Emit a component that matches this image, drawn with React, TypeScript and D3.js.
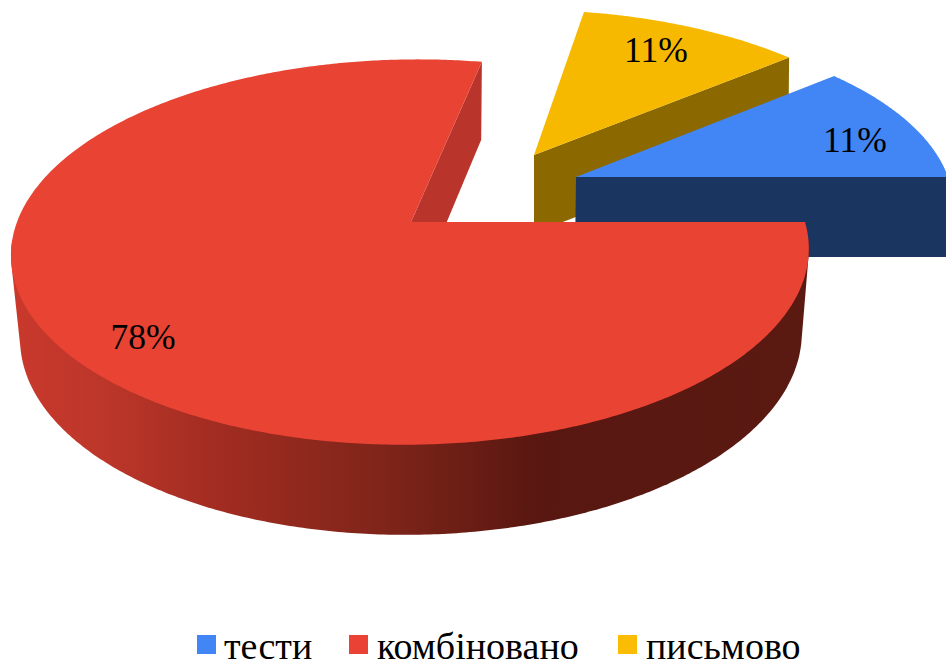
import React from "react";
import * as d3 from "d3";

const categories = ["тести", "комбіновано", "письмово"];
const shares = [11, 78, 11];
const percentLabels = ["11%", "78%", "11%"];
const topColors = ["#4285F4", "#E94334", "#F6B900"];
const legendColors = ["#4285F4", "#EA4335", "#FBBC04"];

const W = 946, H = 664;
const P = 0.156;
const FONT = "'Liberation Serif', serif";

type Proj = { x0: number; y0: number; r: number; a: number; s: number };
const project = (p: Proj, ang: number, f = 1): [number, number] => {
  const u = Math.sin(ang) * f, v = Math.cos(ang) * f;
  const w = 1 + P * v;
  return [p.x0 + (p.r * u) / w + p.s * v, p.y0 - (p.a * v) / w];
};

const layout: { top: Proj; bottom: Proj; wallFill: string; label: [number, number] }[] = [
  { top: { x0: 576, y0: 177, r: 372, a: 174, s: -4 }, bottom: { x0: 575, y0: 257, r: 372, a: 174, s: -4 }, wallFill: "#1A3560", label: [855, 152] },
  { top: { x0: 411, y0: 222, r: 394, a: 188, s: 7 }, bottom: { x0: 412, y0: 305, r: 386, a: 194, s: 6.6 }, wallFill: "#B9342A", label: [143, 349] },
  { top: { x0: 534, y0: 155, r: 374, a: 168, s: -11 }, bottom: { x0: 534, y0: 233, r: 373, a: 168, s: -11 }, wallFill: "#8C6900", label: [656, 62] },
];

const startDeg = 50.4;
const start = (startDeg * Math.PI) / 180;
const pieGen = d3.pie<number>().sort(null).startAngle(start).endAngle(start + 2 * Math.PI);
const arcs = pieGen(shares);
const lineGen = d3.line();

const sampleAngles = (a: number, b: number) => {
  const n = Math.max(2, Math.ceil(Math.abs(b - a) / 0.01));
  return d3.range(n + 1).map((i) => a + ((b - a) * i) / n);
};

const facePath = (p: Proj, a: number, b: number) =>
  lineGen([[p.x0, p.y0], ...sampleAngles(a, b).map((t) => project(p, t))])! + "Z";

const edgeWall = (i: number, ang: number) => {
  const { top, bottom } = layout[i];
  return lineGen([[top.x0, top.y0], project(top, ang), project(bottom, ang), [bottom.x0, bottom.y0]])! + "Z";
};

const rimWall = (i: number, a: number, b: number) => {
  const { top, bottom } = layout[i];
  const ts = sampleAngles(a, b);
  const hull = d3.polygonHull([...ts.map((t) => project(top, t)), ...ts.map((t) => project(bottom, t))])!;
  return lineGen(hull)! + "Z";
};

const legendItems = [
  { sq: 197, tx: 224 },
  { sq: 349, tx: 377 },
  { sq: 618, tx: 646 },
];

export default function App() {
  const red = arcs[1], yel = arcs[2], blu = arcs[0];
  return (
    <svg width={W} height={H} viewBox={`0 0 ${W} ${H}`} style={{ position: "absolute", left: 0, top: 0, background: "#fff" }}>
      <defs>
        <linearGradient id="redWall" gradientUnits="userSpaceOnUse" x1={11} x2={808} y1={0} y2={0}>
          <stop offset="0" stopColor="#C9392C" />
          <stop offset="0.12" stopColor="#BC362A" />
          <stop offset="0.24" stopColor="#A52D22" />
          <stop offset="0.48" stopColor="#7D2419" />
          <stop offset="0.66" stopColor="#581710" />
          <stop offset="1" stopColor="#5A1A12" />
        </linearGradient>
      </defs>
      {/* yellow slice */}
      <path d={edgeWall(2, yel.endAngle)} fill={layout[2].wallFill} />
      <path d={facePath(layout[2].top, yel.startAngle, yel.endAngle)} fill={topColors[2]} />
      {/* blue slice */}
      <path d={edgeWall(0, blu.endAngle)} fill={layout[0].wallFill} />
      <path d={facePath(layout[0].top, blu.startAngle, blu.endAngle)} fill={topColors[0]} />
      {/* red slice */}
      <path d={edgeWall(1, red.endAngle)} fill={layout[1].wallFill} />
      <path d={rimWall(1, red.startAngle, Math.PI * 1.47)} fill="url(#redWall)" />
      <path d={facePath(layout[1].top, red.startAngle, red.endAngle)} fill={topColors[1]} />
      {percentLabels.map((t, i) => (
        <text key={i} x={layout[i].label[0]} y={layout[i].label[1]} textAnchor="middle" fontFamily={FONT} fontSize={35.5} fill="#000">{t}</text>
      ))}
      {categories.map((c, i) => (
        <g key={c}>
          <rect x={legendItems[i].sq} y={635} width={19} height={19} fill={legendColors[i]} />
          <text x={legendItems[i].tx} y={659} fontFamily={FONT} fontSize={38} fill="#000">{c}</text>
        </g>
      ))}
    </svg>
  );
}
